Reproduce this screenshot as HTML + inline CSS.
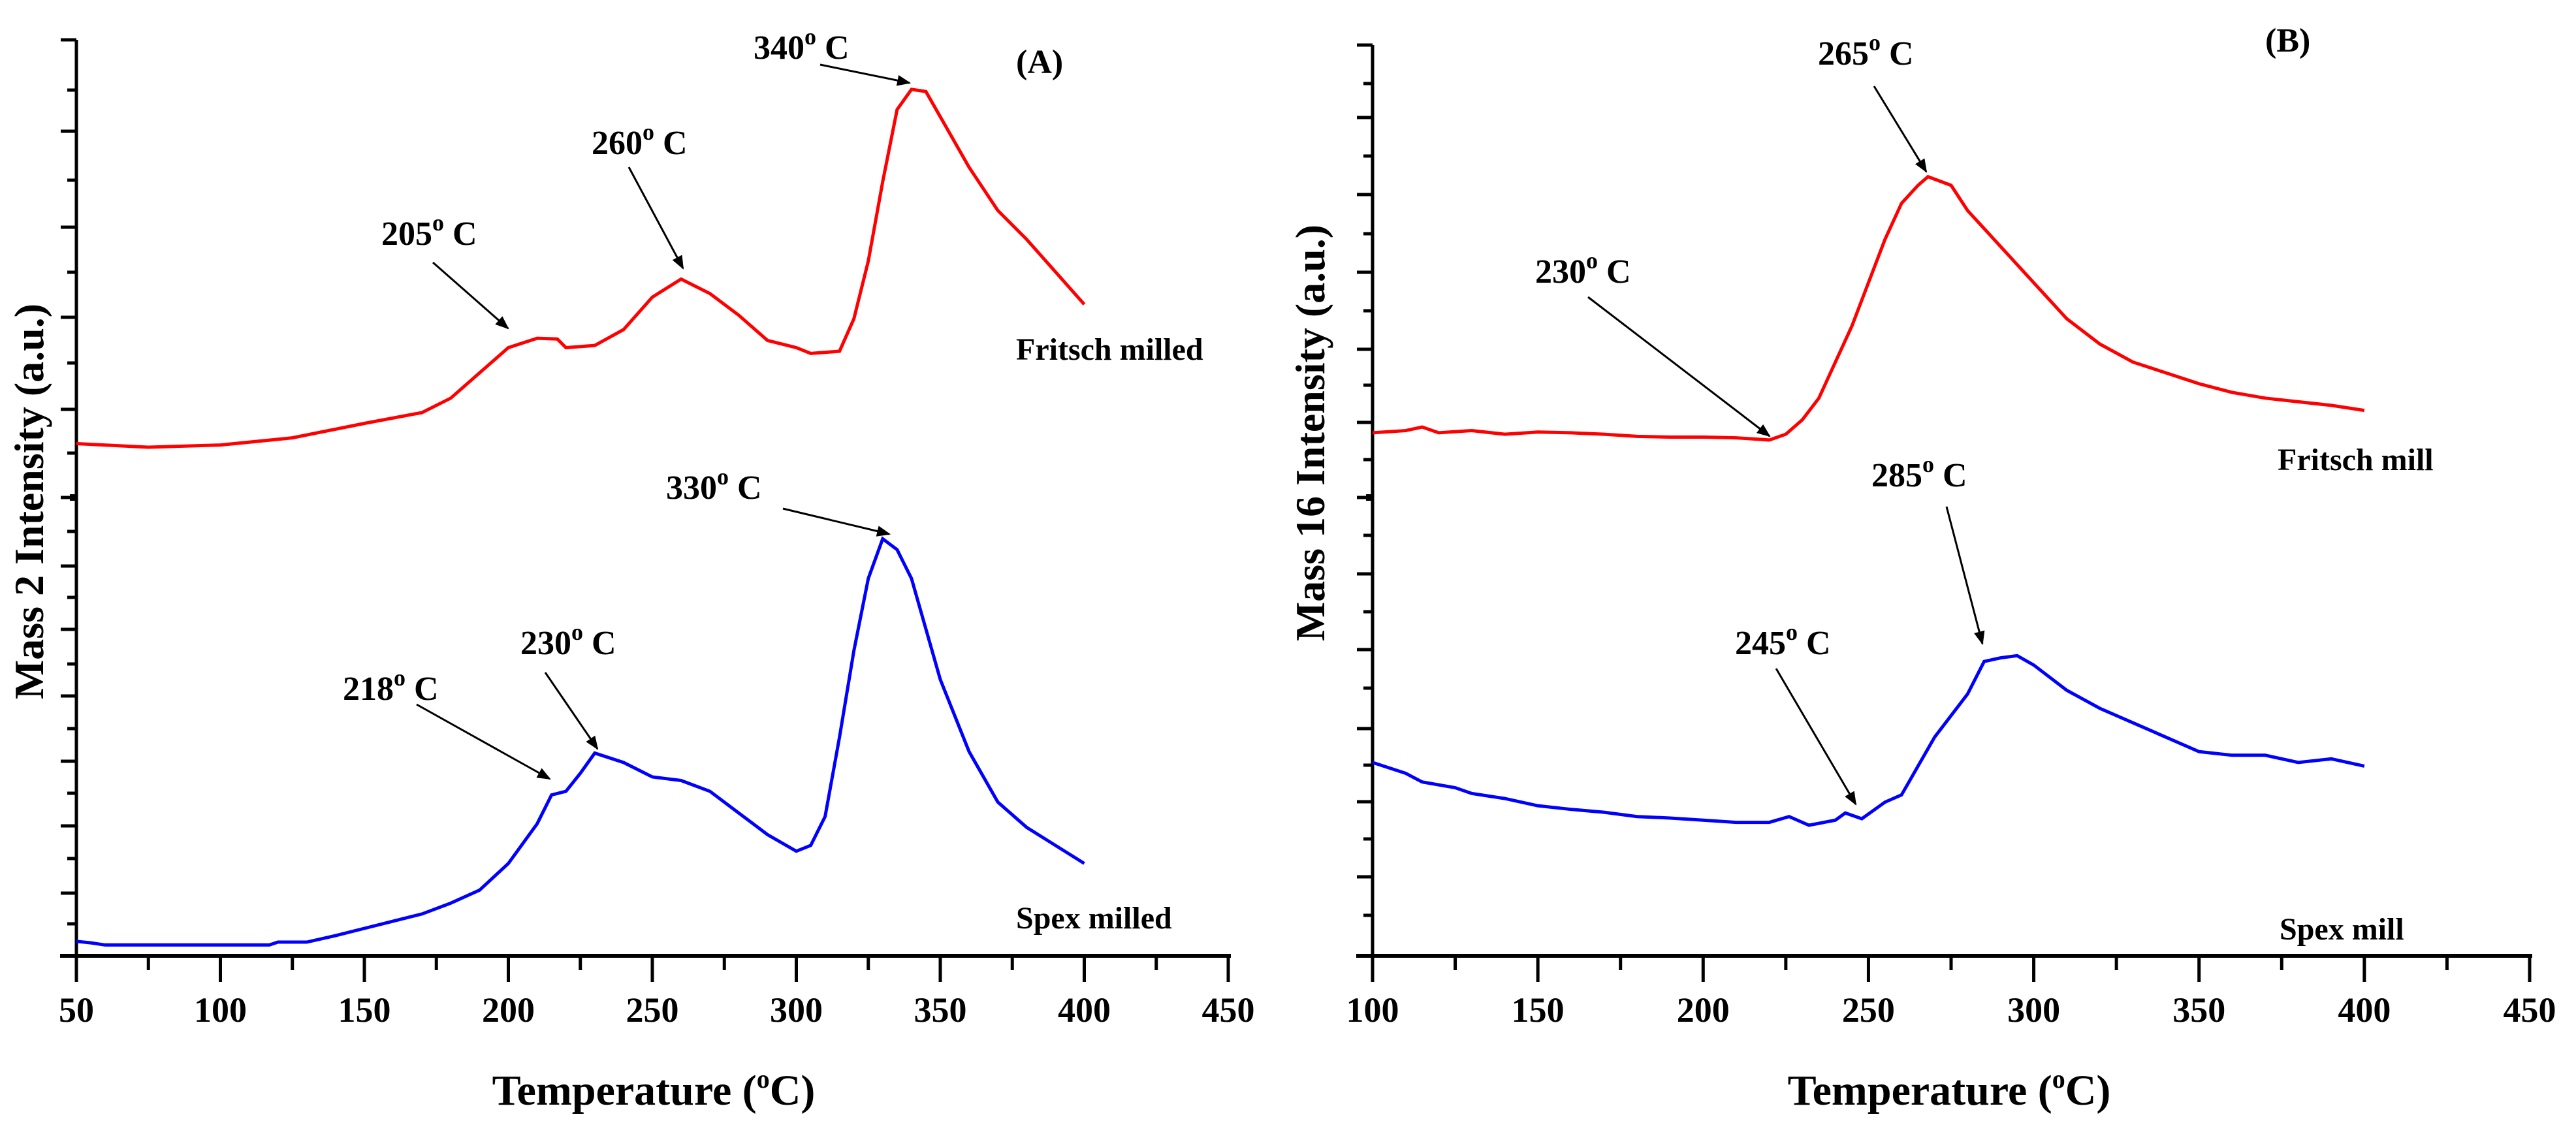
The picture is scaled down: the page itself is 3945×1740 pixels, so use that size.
<!DOCTYPE html>
<html><head><meta charset="utf-8"><style>
html,body{margin:0;padding:0;background:#fff;}
svg{display:block;}
text{font-family:"Liberation Serif",serif;font-weight:bold;fill:#000;}
</style></head><body>
<svg id="chart" width="3945" height="1740" viewBox="0 0 3945 1740" xmlns="http://www.w3.org/2000/svg">
<defs><marker id="ah" viewBox="0 0 10 10" refX="9" refY="5" markerWidth="7" markerHeight="7" orient="auto"><path d="M0,1 L10,5 L0,9 z" fill="#000"/></marker></defs>
</svg>
<script>
// Panel A data (temperature °C, relative intensity)
const tempsA_fritsch=[50,75,100,125,150,170,180,190,200,210,217,220,230,240,250,260,270,280,290,300,305,315,320,325,330,335,340,345,350,360,370,380,390,400];
const valsA_fritsch=[710,705,708,718,738,753,773,808,843,856,855,843,846,868,913,938,918,888,853,843,835,838,883,963,1073,1173,1201,1198,1163,1093,1033,993,948,903];
const tempsA_spex=[50,55,60,117,120,130,140,150,160,170,180,190,200,210,215,220,225,230,240,250,260,270,280,290,300,305,310,315,320,325,330,335,340,350,360,370,380,390,400];
const valsA_spex=[20,18,15,15,19,19,28,38,48,58,73,91,128,183,223,228,253,281,268,248,243,228,198,168,145,153,193,303,423,523,578,563,523,383,283,213,178,153,128];
// Panel B data
const tempsB_fritsch=[100,110,115,120,130,140,150,160,170,180,190,200,210,220,225,230,235,240,245,250,255,260,265,268,275,280,290,300,310,320,330,340,350,360,370,380,390,400];
const valsB_fritsch=[725,728,733,725,728,723,726,725,723,720,719,719,718,715,723,743,773,823,873,933,993,1043,1068,1080,1068,1033,983,933,883,848,823,808,793,781,773,768,763,756];
const tempsB_spex=[100,110,115,125,130,140,150,160,170,180,190,200,210,220,226,232,240,243,248,255,260,265,270,280,285,290,295,300,310,320,330,340,350,360,370,380,390,400];
const valsB_spex=[268,253,241,233,225,218,208,203,199,193,191,188,185,185,193,181,188,198,190,213,223,263,303,363,408,413,416,403,368,343,323,303,283,278,278,268,273,263];
const xTicks=[50,100,150,200,250,300,350,400,450];
const xTicksB=[100,150,200,250,300,350,400,450];

const svg=document.getElementById('chart');
const NS='http://www.w3.org/2000/svg';
function el(tag,attrs,parent){const e=document.createElementNS(NS,tag);for(const k in attrs)e.setAttribute(k,attrs[k]);(parent||svg).appendChild(e);return e;}

const axisY=1464, ky=1.105;
// Panel A scales
const xA=t=>117+(t-50)*(1881-117)/400;
const yA=v=>axisY-v*ky;
// Panel B scales
const xB=t=>2102+(t-100)*(3874-2102)/350;
const yB=yA;

function drawPanel(id,xs,ticks,x0,x1,ytop,yticks,breakY){
  const g=el('g',{});
  
  
  el('line',{x1:x0-25,y1:axisY,x2:x1+4,y2:axisY,stroke:'#000','stroke-width':6},g);
  el('line',{x1:x0,y1:ytop,x2:x0,y2:axisY+40,stroke:'#000','stroke-width':5},g);
  ticks.forEach((t,i)=>{
    const x=xs(t);
    el('line',{x1:x,y1:axisY,x2:x,y2:axisY+40,stroke:'#000','stroke-width':5},g);
    if(i<ticks.length-1){const xm=xs(t+25);el('line',{x1:xm,y1:axisY,x2:xm,y2:axisY+22,stroke:'#000','stroke-width':5},g);}
    const tx=el('text',{x:x,y:1565,'font-size':54,'text-anchor':'middle'},g);
    tx.textContent=t;
    
    
  });
  yticks.forEach((y,i)=>{
    el('line',{x1:x0-(i%2?14:24),y1:y,x2:x0,y2:y,stroke:'#000','stroke-width':5},g);
  });
  el('rect',{x:x0-10,y:breakY-5,width:12,height:10,fill:'#000'},g);
}
function drawLine(name,ts,vs,xs,ys,color){
  const p=el('polyline',{points:ts.map((t,i)=>xs(t)+','+ys(vs[i])).join(' '),fill:'none',stroke:color,'stroke-width':5,'stroke-linejoin':'miter'});
  
  
}
const ytA=[61,138,201,276,348,417,486,556,627,694,762,814,867,915,964,1017,1066,1116,1166,1215,1265,1315,1368,1415];
const ytB=[69,128,180,239,298,358,417,476,535,590,647,704,762,820,879,937,995,1054,1116,1172,1228,1285,1343,1402];
drawPanel('panel-a',xA,xTicks,117,1881,61,ytA,762);
drawPanel('panel-b',xB,xTicksB,2102,3874,69,ytB,762);
drawLine('fritsch-milled-line',tempsA_fritsch,valsA_fritsch,xA,yA,'#ff0000');
drawLine('spex-milled-line',tempsA_spex,valsA_spex,xA,yA,'#0000ff');
drawLine('fritsch-mill-line',tempsB_fritsch,valsB_fritsch,xB,yB,'#ff0000');
drawLine('spex-mill-line',tempsB_spex,valsB_spex,xB,yB,'#0000ff');

function label(name,txt,x,y,size,anchor){
  const t=el('text',{x:x,y:y,'font-size':size,'text-anchor':anchor||'start'});
  t.innerHTML=txt;
  
  
  return t;
}
function peak(name,txt,x,y,ax1,ay1,ax2,ay2){
  label(name,txt.replace('°','<tspan dy="-22" font-size="36">o</tspan><tspan dy="22"> </tspan>'),x,y,52);
  const a=el('line',{x1:ax1,y1:ay1,x2:ax2,y2:ay2,stroke:'#000','stroke-width':3,'marker-end':'url(#ah)'});
  
  
}
peak('label-340c','340°C',1154,90,1256,99,1393,127);
peak('label-260c','260°C',906,236,963,256,1046,411);
peak('label-205c','205°C',584,375,663,402,778,503);
peak('label-330c','330°C',1020,764,1199,779,1362,818);
peak('label-230c-a','230°C',797,1002,835,1030,915,1147);
peak('label-218c','218°C',525,1072,638,1079,842,1193);
peak('label-265c','265°C',2784,99,2870,132,2950,263);
peak('label-230c-b','230°C',2351,433,2432,455,2710,668);
peak('label-285c','285°C',2866,745,2981,776,3036,986);
peak('label-245c','245°C',2657,1002,2720,1024,2842,1232);
label('panel-a-label','(A)',1556,112,52);
label('panel-b-label','(B)',3469,79,52);
label('fritsch-milled-label','Fritsch milled',1556,551,48);
label('spex-milled-label','Spex milled',1556,1422,48);
label('fritsch-mill-label','Fritsch mill',3488,720,48);
label('spex-mill-label','Spex mill',3491,1439,48);
label('x-axis-title-a','Temperature (<tspan dy="-26" font-size="40">o</tspan><tspan dy="26">C)</tspan>',1001,1692,66,'middle');
label('x-axis-title-b','Temperature (<tspan dy="-26" font-size="40">o</tspan><tspan dy="26">C)</tspan>',2985,1692,66,'middle');
const yt1=label('y-axis-title-a','Mass 2 Intensity (a.u.)',0,0,64,'middle');
yt1.setAttribute('transform','translate(66,768) rotate(-90)');
const yt2=label('y-axis-title-b','Mass 16 Intensity (a.u.)',0,0,64,'middle');
yt2.setAttribute('transform','translate(2028,663) rotate(-90)');
</script>
</body></html>
